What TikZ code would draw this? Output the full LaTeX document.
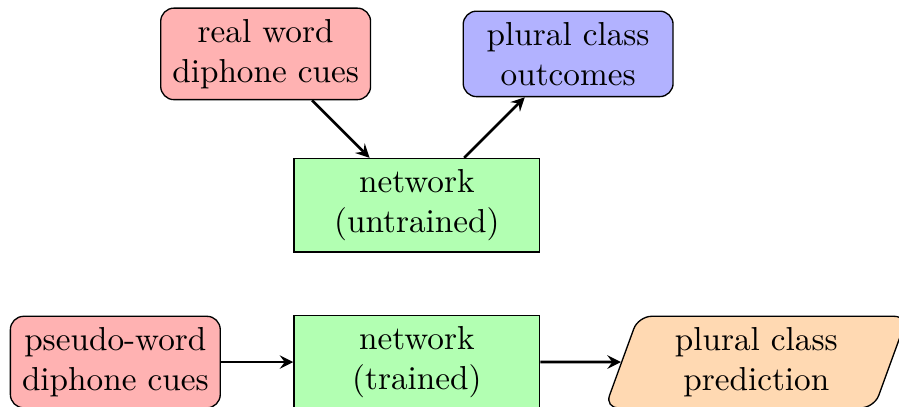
\documentclass[tikz,border=0pt]{standalone}
\usepackage{amsmath}
\usepackage{tikz}
\usetikzlibrary{shapes.geometric,arrows,positioning}

\tikzset{
	cuebox/.style={rectangle, rounded corners, draw=black, fill=red!30, align=center, minimum width=2.22cm, minimum height=0.92cm},
	outbox/.style={rectangle, rounded corners, draw=black, fill=blue!30, align=center, minimum width=2.22cm, minimum height=0.88cm},
	netbox/.style={rectangle, draw=black, fill=green!30, align=center, minimum width=2.6cm, minimum height=0.95cm},
	predbox/.style={trapezium, trapezium left angle=70, trapezium right angle=110, rounded corners, draw=black, fill=orange!30, align=center, minimum width=3.2cm, minimum height=0.95cm, trapezium stretches body},
	arrow/.style={thick,->,>=stealth}
}

\begin{document}
\begin{tikzpicture}
				\useasboundingbox (-4.41,-2.125) rectangle (5.10,2.17);
				\node[netbox] (untrained) at (0,0) {network\\(untrained)};
				\node[cuebox] (real) at (-1.6,1.6) {real word\\diphone cues};
				\node[outbox] (outcomes) at (1.6,1.6) {plural class\\outcomes};
				\node[netbox] (trained) at (0,-1.66) {network\\(trained)};
				\node[cuebox] (pseudo) at (-3.19,-1.66) {pseudo-word\\diphone cues};
				\node[predbox] (prediction) at (3.59,-1.66) {plural class\\prediction};
				\draw[arrow] (real) -- (untrained);
				\draw[arrow] (untrained) -- (outcomes);
				\draw[arrow] (pseudo) -- (trained);
				\draw[arrow] (trained) -- (prediction);
			\end{tikzpicture}
\end{document}
